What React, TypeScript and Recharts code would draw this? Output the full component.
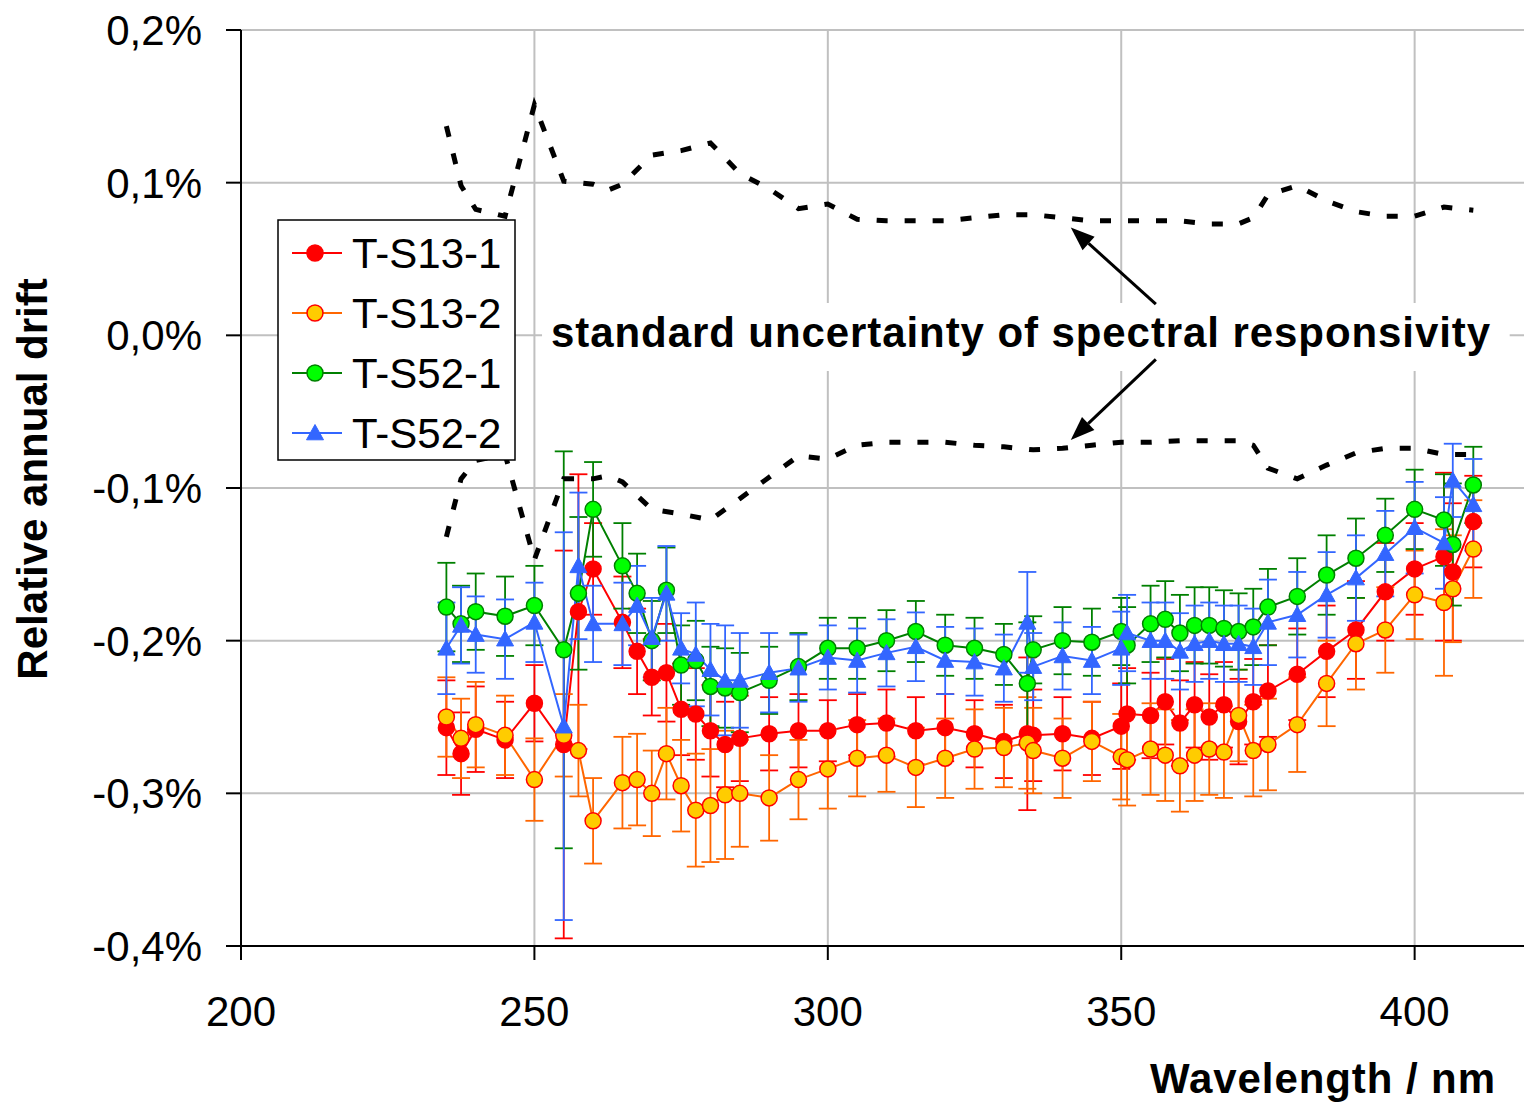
import { ComposedChart, Line, ErrorBar, XAxis, YAxis, CartesianGrid, Legend, ReferenceArea, ReferenceLine } from "recharts";

const FONT = "'Liberation Sans', Arial, Helvetica, sans-serif";

// wavelengths in nm
const wavelengths = [
  235, 237.5, 240, 245, 250, 255, 257.5, 260, 265, 267.5, 270, 272.5, 275, 277.5, 280, 282.5, 285, 290, 295, 300,
  305, 310, 315, 320, 325, 330, 334, 335, 340, 345, 350, 351, 355, 357.5, 360, 362.5, 365, 367.5, 370, 372.5,
  375, 380, 385, 390, 395, 400, 405, 406.5, 410,
];

// relative annual drift in %
const s13_1 = [
  -0.257, -0.274, -0.258, -0.265, -0.241, -0.268, -0.181, -0.153, -0.188, -0.207, -0.224, -0.221, -0.245, -0.248, -0.259, -0.268, -0.264, -0.261, -0.259, -0.259,
  -0.255, -0.254, -0.259, -0.257, -0.261, -0.266, -0.261, -0.262, -0.261, -0.264, -0.256, -0.248, -0.249, -0.24, -0.254, -0.242, -0.25, -0.242, -0.253, -0.24,
  -0.233, -0.222, -0.207, -0.193, -0.168, -0.153, -0.145, -0.155, -0.122,
];
const s13_1Err = [
  0.031, 0.027, 0.028, 0.025, 0.025, 0.127, 0.09, 0.03, 0.03, 0.028, 0.025, 0.032, 0.03, 0.03, 0.03, 0.028, 0.028, 0.024, 0.024, 0.02,
  0.02, 0.022, 0.022, 0.022, 0.022, 0.024, 0.05, 0.03, 0.024, 0.024, 0.028, 0.03, 0.028, 0.028, 0.028, 0.028, 0.028, 0.028, 0.028, 0.028,
  0.03, 0.03, 0.03, 0.032, 0.032, 0.03, 0.055, 0.045, 0.03,
];

const s13_2 = [
  -0.25, -0.264, -0.255, -0.262, -0.291, -0.262, -0.272, -0.318, -0.293, -0.291, -0.3, -0.274, -0.295, -0.311, -0.308, -0.301, -0.3, -0.303, -0.291, -0.284,
  -0.277, -0.275, -0.283, -0.277, -0.271, -0.27, -0.267, -0.272, -0.277, -0.266, -0.276, -0.278, -0.271, -0.275, -0.282, -0.275, -0.271, -0.273, -0.249, -0.272,
  -0.268, -0.255, -0.228, -0.202, -0.193, -0.17, -0.175, -0.166, -0.14,
];
const s13_2Err = [
  0.026, 0.026, 0.028, 0.026, 0.027, 0.027, 0.03, 0.028, 0.03, 0.03, 0.028, 0.03, 0.03, 0.037, 0.037, 0.042, 0.035, 0.028, 0.026, 0.026,
  0.025, 0.024, 0.026, 0.026, 0.026, 0.026, 0.03, 0.028, 0.026, 0.026, 0.028, 0.03, 0.03, 0.03, 0.03, 0.03, 0.03, 0.03, 0.03, 0.03,
  0.03, 0.031, 0.028, 0.03, 0.028, 0.029, 0.048, 0.035, 0.032,
];

const s52_1 = [
  -0.178, -0.189, -0.181, -0.184, -0.177, -0.206, -0.169, -0.114, -0.151, -0.169, -0.2, -0.167, -0.216, -0.213, -0.23, -0.231, -0.234, -0.226, -0.217, -0.205,
  -0.205, -0.2, -0.194, -0.203, -0.205, -0.209, -0.228, -0.206, -0.2, -0.201, -0.194, -0.203, -0.189, -0.186, -0.195, -0.19, -0.19, -0.192, -0.194, -0.191,
  -0.178, -0.171, -0.157, -0.146, -0.131, -0.114, -0.121, -0.137, -0.098,
];
const s52_1Err = [
  0.029, 0.025, 0.025, 0.026, 0.026, 0.13, 0.05, 0.031, 0.028, 0.026, 0.026, 0.028, 0.026, 0.026, 0.026, 0.026, 0.026, 0.022, 0.022, 0.02,
  0.02, 0.02, 0.02, 0.02, 0.02, 0.02, 0.04, 0.022, 0.022, 0.022, 0.022, 0.025, 0.025, 0.025, 0.025, 0.025, 0.025, 0.025, 0.025, 0.025,
  0.025, 0.025, 0.026, 0.026, 0.024, 0.026, 0.03, 0.04, 0.025,
];

const s52_2 = [
  -0.205, -0.19, -0.196, -0.199, -0.188, -0.256, -0.151, -0.189, -0.189, -0.177, -0.198, -0.169, -0.205, -0.209, -0.219, -0.226, -0.226, -0.221, -0.218, -0.211,
  -0.213, -0.208, -0.204, -0.213, -0.214, -0.218, -0.188, -0.217, -0.21, -0.213, -0.205, -0.195, -0.2, -0.2, -0.207, -0.202, -0.2, -0.202, -0.202, -0.204,
  -0.188, -0.183, -0.17, -0.159, -0.143, -0.126, -0.136, -0.095, -0.111,
];
const s52_2Err = [
  0.03, 0.025, 0.025, 0.026, 0.026, 0.127, 0.048, 0.025, 0.027, 0.026, 0.026, 0.031, 0.023, 0.034, 0.03, 0.036, 0.031, 0.026, 0.022, 0.021,
  0.021, 0.022, 0.0225, 0.022, 0.022, 0.022, 0.033, 0.022, 0.022, 0.022, 0.024, 0.025, 0.025, 0.025, 0.025, 0.025, 0.025, 0.025, 0.025, 0.025,
  0.028, 0.028, 0.028, 0.028, 0.028, 0.03, 0.03, 0.024, 0.03,
];

// standard uncertainty of spectral responsivity (upper / lower bound, %)
const bandWavelengths = [
  235, 237.5, 240, 245, 250, 255, 260, 262.5, 265, 270, 275, 280, 285, 290, 295, 300, 305, 310, 315, 320,
  325, 330, 335, 340, 345, 350, 355, 360, 365, 370, 372.5, 375, 380, 385, 390, 395, 400, 405, 410,
];
const bandUpper = [
  0.137, 0.098, 0.0825, 0.078, 0.151, 0.101, 0.099, 0.095, 0.099, 0.118, 0.121, 0.126, 0.106, 0.096, 0.083, 0.086, 0.076, 0.075, 0.075, 0.075,
  0.077, 0.079, 0.079, 0.077, 0.075, 0.075, 0.075, 0.075, 0.073, 0.073, 0.077, 0.092, 0.098, 0.088, 0.081, 0.078, 0.078, 0.084, 0.082,
];
const bandLower = [
  -0.132, -0.094, -0.082, -0.078, -0.147, -0.094, -0.094, -0.092, -0.096, -0.114, -0.117, -0.121, -0.107, -0.093, -0.079, -0.081, -0.072, -0.07, -0.07, -0.07,
  -0.072, -0.073, -0.075, -0.074, -0.072, -0.07, -0.07, -0.069, -0.069, -0.069, -0.072, -0.087, -0.094, -0.085, -0.077, -0.074, -0.074, -0.078, -0.078,
];

const xTicks = [200, 250, 300, 350, 400];
const yTicks = [-0.4, -0.3, -0.2, -0.1, 0, 0.1, 0.2];

const rows = wavelengths.map((wl, i) => ({
  wl,
  a: s13_1[i], aErr: s13_1Err[i],
  b: s13_2[i], bErr: s13_2Err[i],
  c: s52_1[i], cErr: s52_1Err[i],
  d: s52_2[i], dErr: s52_2Err[i],
}));
const bandRows = bandWavelengths.map((wl, i) => ({ wl, upper: bandUpper[i], lower: bandLower[i] }));

const SERIES = [
  { key: "a", name: "T-S13-1", line: "#FF0000", fill: "#FF0000", edge: "#FF0000", tri: false },
  { key: "b", name: "T-S13-2", line: "#FF6600", fill: "#FFCC00", edge: "#FF0000", tri: false },
  { key: "c", name: "T-S52-1", line: "#008000", fill: "#00FF00", edge: "#008000", tri: false },
  { key: "d", name: "T-S52-2", line: "#3366FF", fill: "#3366FF", edge: "#3366FF", tri: true },
];

const fmtPct = (v: number) => (v < 0 ? "-" : "") + Math.abs(v).toFixed(1).replace(".", ",") + "%";

function marker(s: (typeof SERIES)[number], cx: number, cy: number, size: number, key?: string) {
  if (s.tri) {
    const h = size + 0.5;
    return (
      <path key={key} d={`M${cx},${cy - h} L${cx + h},${cy + h * 0.8} L${cx - h},${cy + h * 0.8} Z`} fill={s.fill} stroke={s.edge} strokeWidth={1} />
    );
  }
  return <circle key={key} cx={cx} cy={cy} r={size} fill={s.fill} stroke={s.edge} strokeWidth={1.5} />;
}

const makeDot = (s: (typeof SERIES)[number]) => (p: any) => {
  if (p.cx == null || p.cy == null) return <g key={`${s.key}-${p.index}`} />;
  return marker(s, p.cx, p.cy, 8, `${s.key}-${p.index}`);
};

function LegendBox() {
  return (
    <svg width={240} height={243} style={{ display: "block" }}>
      <rect x={1} y={1} width={237} height={240} fill="#fff" stroke="#000" strokeWidth={1.5} />
      {SERIES.map((s, i) => {
        const cy = 34 + i * 60;
        return (
          <g key={s.key}>
            <line x1={15} x2={65} y1={cy} y2={cy} stroke={s.line} strokeWidth={2} />
            {marker(s, 38, cy, 8)}
            <text x={75} y={cy + 15} fontSize={42} fontFamily={FONT} fill="#000">
              {s.name}
            </text>
          </g>
        );
      })}
    </svg>
  );
}

const arrowShape = (p: any) => {
  const { x1, y1, x2, y2 } = p;
  if ([x1, y1, x2, y2].some((v) => v == null)) return <g />;
  const ang = Math.atan2(y2 - y1, x2 - x1);
  const len = 24;
  const half = 9;
  const bx = x2 - len * Math.cos(ang);
  const by = y2 - len * Math.sin(ang);
  const px = -Math.sin(ang) * half;
  const py = Math.cos(ang) * half;
  return (
    <g>
      <line x1={x1} y1={y1} x2={bx} y2={by} stroke="#000" strokeWidth={3} />
      <polygon points={`${x2},${y2} ${bx + px},${by + py} ${bx - px},${by - py}`} fill="#000" />
    </g>
  );
};

const noteLabel = (p: any) => {
  const vb = p.viewBox || {};
  return (
    <text
      x={vb.x + 9}
      y={vb.y + 44}
      fontSize={42}
      fontWeight="bold"
      fontFamily={FONT}
      fill="#000"
      textLength={939}
      lengthAdjust="spacing"
    >
      standard uncertainty of spectral responsivity
    </text>
  );
};

const yTitle = (p: any) => {
  const vb = p.viewBox || {};
  const cx = vb.x - 109;
  const cy = vb.y + vb.height / 2 - 9;
  return (
    <text
      transform={`translate(${cx},${cy}) rotate(-90)`}
      textAnchor="middle"
      dominantBaseline="central"
      fontSize={42}
      fontWeight="bold"
      fontFamily={FONT}
      fill="#000"
    >
      Relative annual drift
    </text>
  );
};

const xTitle = (p: any) => {
  const vb = p.viewBox || {};
  return (
    <text
      x={vb.x + 909}
      y={vb.y + 147}
      fontSize={42}
      fontWeight="bold"
      fontFamily={FONT}
      fill="#000"
      textLength={345}
      lengthAdjust="spacing"
    >
      Wavelength / nm
    </text>
  );
};

export default function App() {
  return (
    <div style={{ position: "absolute", left: 0, top: 0, width: 1524, height: 1103, overflow: "hidden", background: "#fff" }}>
      <ComposedChart width={1540} height={1103} data={rows} margin={{ top: 30, right: 8, bottom: 77, left: 141 }}>
        <CartesianGrid stroke="#c0c0c0" strokeWidth={2} />
        <XAxis
          type="number"
          dataKey="wl"
          domain={[200, 420]}
          ticks={xTicks}
          allowDataOverflow
          height={80}
          tickSize={14}
          tickMargin={36}
          axisLine={{ stroke: "#000", strokeWidth: 2 }}
          tickLine={{ stroke: "#000", strokeWidth: 2 }}
          tick={{ fontSize: 42, fill: "#000", fontFamily: FONT }}
          label={{ content: xTitle }}
        />
        <YAxis
          type="number"
          domain={[-0.4, 0.2]}
          ticks={yTicks}
          allowDataOverflow
          width={100}
          tickSize={15}
          tickMargin={24}
          tickFormatter={fmtPct}
          axisLine={{ stroke: "#000", strokeWidth: 2 }}
          tickLine={{ stroke: "#000", strokeWidth: 2 }}
          tick={{ fontSize: 42, fill: "#000", fontFamily: FONT }}
          label={{ content: yTitle }}
        />
        <ReferenceArea
          x1={251.3}
          x2={416.2}
          y1={0.0212}
          y2={-0.0234}
          fill="#fff"
          fillOpacity={1}
          stroke="none"
          label={{ content: noteLabel }}
        />
        {SERIES.map((s) => (
          <Line
            key={s.key}
            type="linear"
            dataKey={s.key}
            name={s.name}
            stroke={s.line}
            strokeWidth={2}
            dot={makeDot(s)}
            activeDot={false}
            isAnimationActive={false}
          >
            <ErrorBar dataKey={`${s.key}Err`} width={9} stroke={s.line} strokeWidth={1.8} direction="y" />
          </Line>
        ))}
        <Line
          data={bandRows}
          type="linear"
          dataKey="upper"
          stroke="#000"
          strokeWidth={5}
          strokeDasharray="11 17"
          dot={false}
          activeDot={false}
          legendType="none"
          isAnimationActive={false}
        />
        <Line
          data={bandRows}
          type="linear"
          dataKey="lower"
          stroke="#000"
          strokeWidth={5}
          strokeDasharray="11 17"
          dot={false}
          activeDot={false}
          legendType="none"
          isAnimationActive={false}
        />
        <ReferenceLine segment={[{ x: 355.9, y: 0.0205 }, { x: 341.4, y: 0.0707 }]} shape={arrowShape} />
        <ReferenceLine segment={[{ x: 355.9, y: -0.0157 }, { x: 341.4, y: -0.0686 }]} shape={arrowShape} />
        <Legend
          layout="vertical"
          align="center"
          verticalAlign="middle"
          content={() => <LegendBox />}
          wrapperStyle={{ left: 277, top: 219, width: 240, height: 243 }}
        />
      </ComposedChart>
    </div>
  );
}
